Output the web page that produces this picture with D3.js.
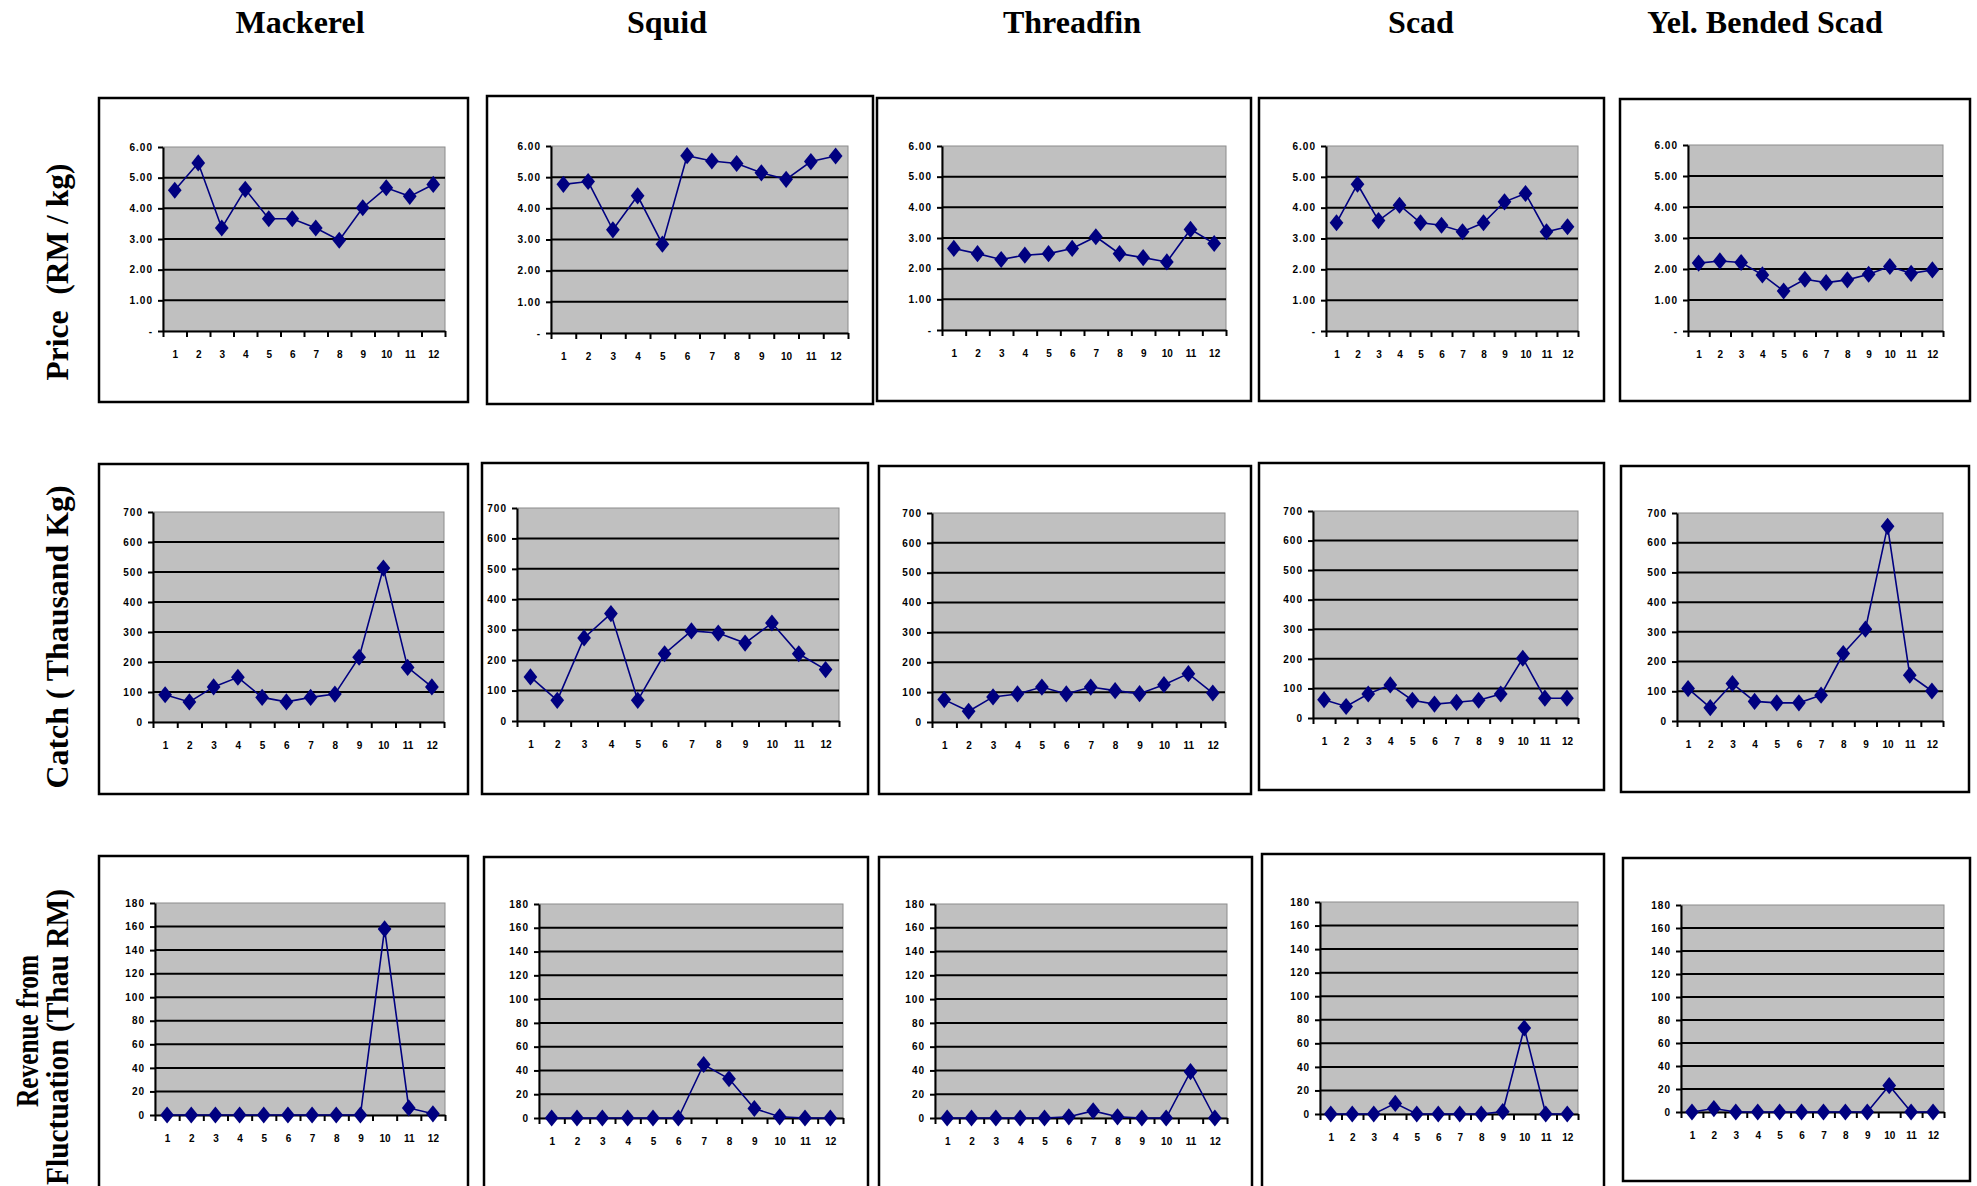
<!DOCTYPE html>
<html>
<head>
<meta charset="utf-8">
<script src="https://cdn.jsdelivr.net/npm/d3@7"></script>
<style>
  html, body { margin: 0; padding: 0; background: #fff; }
  svg { display: block; }
</style>
</head>
<body>
<script>
// months on the x axis
const months = [1, 2, 3, 4, 5, 6, 7, 8, 9, 10, 11, 12];
const species = ["Mackerel", "Squid", "Threadfin", "Scad", "Yel. Bended Scad"];

// price (RM / kg)
const priceMackerel  = [4.59, 5.48, 3.36, 4.62, 3.66, 3.66, 3.36, 2.96, 4.02, 4.67, 4.39, 4.78];
const priceSquid     = [4.77, 4.86, 3.31, 4.40, 2.85, 5.69, 5.52, 5.44, 5.14, 4.93, 5.50, 5.68];
const priceThreadfin = [2.66, 2.49, 2.30, 2.44, 2.49, 2.66, 3.04, 2.49, 2.36, 2.22, 3.28, 2.82];
const priceScad      = [3.51, 4.76, 3.58, 4.08, 3.51, 3.43, 3.22, 3.51, 4.19, 4.46, 3.22, 3.38];
const priceYelBended = [2.19, 2.26, 2.21, 1.81, 1.29, 1.67, 1.56, 1.65, 1.83, 2.08, 1.86, 1.97];

// catch (thousand kg)
const catchMackerel  = [91, 67, 117, 149, 82, 67, 82, 93, 216, 513, 182, 117];
const catchSquid     = [145, 68, 273, 353, 68, 221, 296, 289, 256, 322, 221, 169];
const catchThreadfin = [75, 36, 84, 94, 117, 94, 117, 105, 95, 125, 162, 97];
const catchScad      = [62, 39, 81, 112, 60, 47, 53, 60, 81, 202, 67, 67];
const catchYelBended = [109, 45, 126, 66, 61, 61, 87, 227, 309, 655, 154, 101];

// revenue from fluctuation (thau RM)
const revMackerel  = [0, 0, 0, 0, 0, 0, 0, 0, 0, 158, 6, 1];
const revSquid     = [0, 0, 0, 0, 0, 0, 45, 33, 8, 1, 0, 0];
const revThreadfin = [0, 0, 0, 0, 0, 1, 6, 1, 0, 0, 39, 0];
const revScad      = [0, 0, 0, 9, 0, 0, 0, 0, 2, 73, 0, 0];
const revYelBended = [0, 3, 0, 0, 0, 0, 0, 0, 0, 23, 0, 0];

// y ticks per row
const priceTicks = [0, 1, 2, 3, 4, 5, 6];
const catchTicks = [0, 100, 200, 300, 400, 500, 600, 700];
const revTicks   = [0, 20, 40, 60, 80, 100, 120, 140, 160, 180];

const rows = [
  { ticks: priceTicks, fmt: d => d === 0 ? "-" : d.toFixed(2),
    series: [priceMackerel, priceSquid, priceThreadfin, priceScad, priceYelBended] },
  { ticks: catchTicks, fmt: d3.format("d"),
    series: [catchMackerel, catchSquid, catchThreadfin, catchScad, catchYelBended] },
  { ticks: revTicks, fmt: d3.format("d"),
    series: [revMackerel, revSquid, revThreadfin, revScad, revYelBended] }
];

// layout: outer frame and inner plot area of each panel [x0, y0, x1, y1]
const frames = [
  [[99, 98, 468, 402], [487, 96, 873, 404], [877, 98, 1251, 401], [1259, 98, 1604, 401], [1620, 99, 1970, 401]],
  [[99, 464, 468, 794], [482, 463, 868, 794], [879, 466, 1251, 794], [1259, 463, 1604, 790], [1621, 466, 1969, 792]],
  [[99, 856, 468, 1200], [484, 857, 868, 1200], [879, 857, 1252, 1200], [1262, 854, 1604, 1200], [1623, 858, 1970, 1181]]
];
const plots = [
  [[163, 147, 445, 331], [551, 146, 848, 333], [942, 146, 1226, 330], [1326, 146, 1578, 331], [1688, 145, 1943, 331]],
  [[153, 512, 444, 722], [517, 508, 839, 721], [932, 513, 1225, 722], [1313, 511, 1578, 718], [1677, 513, 1943, 721]],
  [[155, 903, 445, 1115], [539, 904, 843, 1118], [935, 904, 1227, 1118], [1320, 902, 1578, 1114], [1681, 905, 1944, 1112]]
];
const titleX = [300, 667, 1072, 1421, 1765];

const W = 1977, H = 1186;
const navy = "#000080";

const svg = d3.select("body").append("svg")
  .attr("width", W).attr("height", H);

// column titles
svg.selectAll("text.title")
  .data(species)
  .join("text")
  .attr("class", "title")
  .attr("x", (d, i) => titleX[i])
  .attr("y", 33)
  .attr("text-anchor", "middle")
  .style("font-family", "'Liberation Serif', 'Times New Roman', serif")
  .style("font-weight", "bold")
  .style("font-size", "32px")
  .text(d => d);

// row labels (rotated)
const rowLabel = (x, y, txt, len) => {
  svg.append("text")
    .attr("transform", `translate(${x},${y}) rotate(-90)`)
    .attr("text-anchor", "middle")
    .attr("textLength", len)
    .attr("lengthAdjust", "spacingAndGlyphs")
    .style("white-space", "pre")
    .style("font-family", "'Liberation Serif', 'Times New Roman', serif")
    .style("font-weight", "bold")
    .style("font-size", "31px")
    .text(txt);
};
rowLabel(68, 272, "Price  (RM / kg)", 217);
rowLabel(68, 637, "Catch ( Thausand Kg)", 303);
rowLabel(38, 1031, "Revenue from", 152);
rowLabel(68, 1037, "Fluctuation (Thau RM)", 296);

rows.forEach((row, r) => {
  row.series.forEach((values, c) => {
    const [fx0, fy0, fx1, fy1] = frames[r][c];
    const [px0, py0, px1, py1] = plots[r][c];

    // outer frame
    svg.append("rect")
      .attr("x", fx0).attr("y", fy0)
      .attr("width", fx1 - fx0).attr("height", fy1 - fy0)
      .attr("fill", "#fff")
      .attr("stroke", "#000")
      .attr("stroke-width", 2.5);

    const x = d3.scaleLinear().domain([0, 12]).range([px0, px1]);
    const y = d3.scaleLinear().domain([0, d3.max(row.ticks)]).range([py1, py0]);

    const g = svg.append("g");

    // plot area
    g.append("rect")
      .attr("x", px0).attr("y", py0)
      .attr("width", px1 - px0).attr("height", py1 - py0)
      .attr("fill", "#c0c0c0")
      .attr("stroke", "#8c8c8c")
      .attr("stroke-width", 1);

    // gridlines
    g.selectAll("line.grid")
      .data(row.ticks.slice(1, -1))
      .join("line")
      .attr("x1", px0).attr("x2", px1)
      .attr("y1", d => y(d)).attr("y2", d => y(d))
      .attr("stroke", "#000")
      .attr("stroke-width", 2);

    // y axis
    const ya = g.append("g")
      .attr("transform", `translate(${px0},0)`)
      .call(d3.axisLeft(y).tickValues(row.ticks).tickFormat(row.fmt)
        .tickSize(5).tickSizeOuter(0).tickPadding(5));
    ya.select(".domain").attr("stroke", "#000").attr("stroke-width", 2);
    ya.selectAll(".tick line").attr("stroke", "#000").attr("stroke-width", 2);
    ya.selectAll(".tick text")
      .style("font-family", "'Liberation Sans', Arial, sans-serif")
      .style("font-weight", "bold")
      .style("font-size", "10px")
      .style("letter-spacing", "1px")
      .attr("fill", "#000");

    // x axis: tick marks at month boundaries, labels centred
    const xa = g.append("g")
      .attr("transform", `translate(0,${py1})`)
      .call(d3.axisBottom(x).tickValues(d3.range(0, 13)).tickFormat("")
        .tickSize(6).tickSizeOuter(0));
    xa.select(".domain").attr("stroke", "#000").attr("stroke-width", 2);
    xa.selectAll(".tick line").attr("stroke", "#000").attr("stroke-width", 2);

    const xl = g.append("g")
      .attr("transform", `translate(0,${py1})`)
      .call(d3.axisBottom(x).tickValues(months.map(m => m - 0.5))
        .tickFormat(d => d + 0.5).tickSize(0).tickPadding(20));
    xl.select(".domain").remove();
    xl.selectAll(".tick text")
      .style("font-family", "'Liberation Sans', Arial, sans-serif")
      .style("font-weight", "bold")
      .style("font-size", "10px")
      .attr("fill", "#000");

    const pts = values.map((v, i) => [x(months[i] - 0.5), y(v)]);

    // line
    g.append("path")
      .attr("d", d3.line()(pts))
      .attr("fill", "none")
      .attr("stroke", navy)
      .attr("stroke-width", 1.6);

    // diamond markers
    g.selectAll("path.mark")
      .data(pts)
      .join("path")
      .attr("class", "mark")
      .attr("transform", d => `translate(${d[0]},${d[1]}) scale(1,1.25)`)
      .attr("d", d3.symbol(d3.symbolDiamond2, 120)())
      .attr("fill", navy);
  });
});
</script>
</body>
</html>
